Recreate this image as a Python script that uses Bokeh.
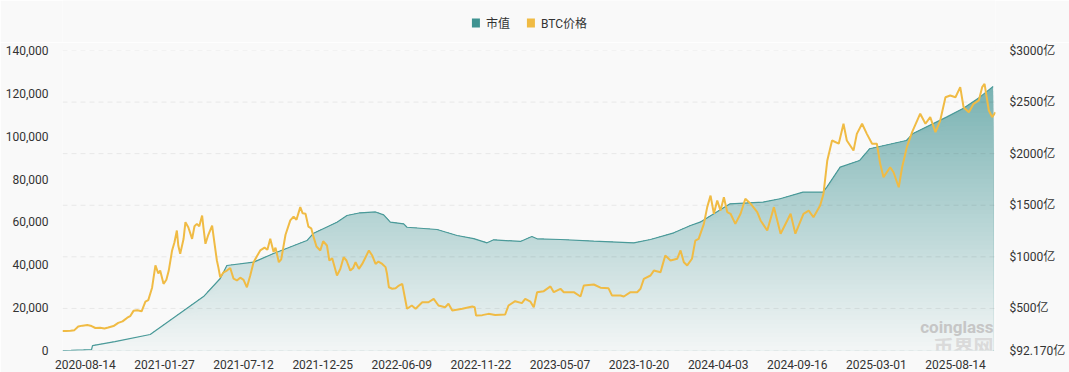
import numpy as np
import pandas as pd
from bokeh.plotting import figure
from bokeh.layouts import column
from bokeh.models import (Range1d, LinearAxis, FixedTicker, DatetimeTickFormatter,
                          NumeralTickFormatter, CustomJSTickFormatter, Legend, LegendItem, Label)
from bokeh.embed import file_html
from bokeh.resources import INLINE

# ---------------- data ----------------
btc_dates = [
    "2020-06-27", "2020-07-05", "2020-07-14", "2020-07-22", "2020-07-30", "2020-08-08", "2020-08-18",
    "2020-08-27", "2020-09-04", "2020-09-14", "2020-09-23", "2020-10-01", "2020-10-12", "2020-10-22",
    "2020-10-31", "2020-11-10", "2020-11-16", "2020-11-23", "2020-12-01", "2020-12-10", "2020-12-18",
    "2020-12-24", "2021-01-01", "2021-01-08", "2021-01-14", "2021-01-18", "2021-01-25", "2021-01-31",
    "2021-02-05", "2021-02-12", "2021-02-17", "2021-02-22", "2021-02-25", "2021-03-01", "2021-03-08",
    "2021-03-12", "2021-03-18", "2021-03-26", "2021-03-31", "2021-04-05", "2021-04-10", "2021-04-16",
    "2021-04-19", "2021-04-23", "2021-04-29", "2021-05-07", "2021-05-12", "2021-05-17", "2021-05-20",
    "2021-05-24", "2021-05-31", "2021-06-07", "2021-06-14", "2021-06-21", "2021-06-28", "2021-07-05",
    "2021-07-12", "2021-07-19", "2021-07-26", "2021-08-02", "2021-08-09", "2021-08-16", "2021-08-25",
    "2021-08-31", "2021-09-06", "2021-09-13", "2021-09-17", "2021-09-24", "2021-09-29", "2021-10-08",
    "2021-10-18", "2021-10-25", "2021-10-31", "2021-11-08", "2021-11-13", "2021-11-19", "2021-11-25",
    "2021-12-01", "2021-12-06", "2021-12-12", "2021-12-20", "2021-12-26", "2022-01-03", "2022-01-08",
    "2022-01-14", "2022-01-24", "2022-01-31", "2022-02-07", "2022-02-13", "2022-02-21", "2022-02-27",
    "2022-03-04", "2022-03-11", "2022-03-18", "2022-03-25", "2022-04-01", "2022-04-08", "2022-04-15",
    "2022-04-21", "2022-04-29", "2022-05-06", "2022-05-09", "2022-05-13", "2022-05-20", "2022-05-27",
    "2022-06-03", "2022-06-10", "2022-06-14", "2022-06-20", "2022-06-30", "2022-07-08", "2022-07-22",
    "2022-08-04", "2022-08-15", "2022-08-25", "2022-09-08", "2022-09-15", "2022-09-23", "2022-10-14",
    "2022-11-04", "2022-11-09", "2022-11-12", "2022-11-25", "2022-12-08", "2022-12-22", "2023-01-12",
    "2023-01-19", "2023-02-02", "2023-02-16", "2023-02-23", "2023-03-06", "2023-03-13", "2023-03-20",
    "2023-04-03", "2023-04-17", "2023-04-24", "2023-05-08", "2023-05-15", "2023-06-05", "2023-06-19",
    "2023-06-26", "2023-07-17", "2023-07-31", "2023-08-17", "2023-08-24", "2023-09-11", "2023-09-18",
    "2023-10-02", "2023-10-16", "2023-10-23", "2023-10-30", "2023-11-13", "2023-11-20", "2023-12-04",
    "2023-12-07", "2023-12-14", "2023-12-25", "2024-01-08", "2024-01-15", "2024-01-22", "2024-01-29",
    "2024-02-08", "2024-02-15", "2024-02-22", "2024-03-04", "2024-03-11", "2024-03-18", "2024-03-25",
    "2024-04-01", "2024-04-08", "2024-04-15", "2024-04-22", "2024-04-29", "2024-05-09", "2024-05-20",
    "2024-05-30", "2024-06-10", "2024-06-24", "2024-07-01", "2024-07-15", "2024-07-29", "2024-08-12",
    "2024-08-26", "2024-09-02", "2024-09-12", "2024-09-29", "2024-10-10", "2024-10-20", "2024-11-03",
    "2024-11-10", "2024-11-18", "2024-11-28", "2024-12-12", "2024-12-22", "2024-12-29", "2025-01-12",
    "2025-01-19", "2025-01-30", "2025-02-09", "2025-02-20", "2025-03-02", "2025-03-09", "2025-03-16",
    "2025-03-30", "2025-04-06", "2025-04-17", "2025-04-24", "2025-05-04", "2025-05-15", "2025-06-01",
    "2025-06-12", "2025-06-22", "2025-07-03", "2025-07-13", "2025-07-24", "2025-08-03", "2025-08-14",
    "2025-08-24", "2025-08-31", "2025-09-11", "2025-09-21", "2025-10-02", "2025-10-09", "2025-10-14",
    "2025-10-23", "2025-10-30", "2025-11-06",
]
btc_prices = [
    9100, 9100, 9200, 9500, 11200, 11600, 11900,
    11400, 10500, 10600, 10300, 10700, 11400, 12900,
    13600, 15300, 16000, 18500, 18800, 18300, 22800,
    23500, 29300, 39700, 36000, 37300, 31100, 33000,
    37300, 46700, 50500, 56000, 49000, 45100, 52000,
    59900, 57500, 52100, 58000, 59100, 58000, 63000,
    57000, 49800, 54000, 58300, 50000, 42000, 38900,
    34200, 36500, 37300, 38500, 33500, 32700, 34000,
    33000, 29500, 35000, 41200, 44000, 46700, 48000,
    47000, 52100, 46000, 48000, 41200, 42500, 54000,
    60700, 62500, 61000, 66900, 64000, 63800, 57800,
    57000, 52900, 48500, 46700, 51000, 49000, 42000,
    43000, 35000, 38000, 43500, 42000, 37300, 38500,
    41200, 38100, 40400, 43500, 46700, 44300, 40400,
    41500, 40400, 38900, 35800, 29500, 28800, 29000,
    30300, 31100, 26500, 19500, 21000, 19500, 22500,
    22500, 24100, 21000, 20200, 21800, 18700, 19500,
    20500, 20200, 16300, 16500, 17100, 16600, 16800,
    21000, 23000, 22100, 24100, 22800, 20200, 27200,
    27700, 29900, 27200, 28800, 27200, 27200, 25200,
    30300, 30800, 29300, 29000, 25700, 25700, 25200,
    27200, 27200, 28800, 33400, 35000, 37300, 36500,
    38900, 44300, 42000, 42800, 46700, 41200, 39700,
    42800, 51300, 52100, 59100, 66900, 72300, 63800,
    70000, 65300, 71500, 64600, 63800, 59100, 63800,
    70800, 68500, 64600, 60700, 56000, 66900, 54500,
    60700, 63800, 54500, 63800, 65300, 62200, 67700,
    73100, 88700, 98000, 96500, 105800, 98000, 93300,
    101100, 105800, 101100, 96500, 96500, 87100, 80900,
    85500, 83200, 76200, 85500, 94900, 101900, 110500,
    105800, 108900, 101900, 107300, 118200, 119000, 118200,
    122900, 113500, 111200, 115100, 116700, 122900, 124400,
    112000, 108900, 111200,
]

cap_dates = [
    "2020-06-27", "2020-07-15", "2020-08-10", "2020-08-27", "2020-08-29", "2020-10-15", "2020-12-28",
    "2021-01-11", "2021-02-22", "2021-04-19", "2021-05-24", "2021-06-07", "2021-08-02", "2021-09-13",
    "2021-11-22", "2021-12-05", "2022-01-24", "2022-02-14", "2022-03-14", "2022-04-15", "2022-05-02",
    "2022-05-16", "2022-06-13", "2022-06-20", "2022-08-22", "2022-10-03", "2022-11-07", "2022-12-05",
    "2022-12-19", "2023-02-13", "2023-03-09", "2023-03-20", "2023-05-08", "2023-07-17", "2023-10-09",
    "2023-11-13", "2024-01-01", "2024-02-05", "2024-02-25", "2024-04-28", "2024-07-06", "2024-08-11",
    "2024-09-28", "2024-11-09", "2024-11-17", "2024-12-15", "2025-01-25", "2025-02-15", "2025-05-03",
    "2025-05-17", "2025-07-26", "2025-08-30", "2025-10-04", "2025-11-01",
]
cap_values = [  # 亿美元
    92.17, 94, 98, 102, 140, 179, 247,
    293, 431, 615, 790, 916, 948, 1032,
    1158, 1226, 1336, 1401, 1427, 1435, 1407,
    1336, 1320, 1287, 1265, 1207, 1176, 1136,
    1165, 1149, 1197, 1175, 1168, 1152, 1136,
    1168, 1233, 1304, 1336, 1514, 1530, 1563,
    1627, 1627, 1675, 1869, 1934, 2048, 2128,
    2196, 2354, 2438, 2548, 2651,
]

x_tick_dates = ["2020-08-14", "2021-01-27", "2021-07-12", "2021-12-25", "2022-06-09", "2022-11-22",
                "2023-05-07", "2023-10-20", "2024-04-03", "2024-09-16", "2025-03-01", "2025-08-14"]
left_ticks = [0, 20000, 40000, 60000, 80000, 100000, 120000, 140000]
right_ticks = [92.17, 500, 1000, 1500, 2000, 2500, 3000]
right_labels = ["$92.170亿", "$500亿", "$1000亿", "$1500亿", "$2000亿", "$2500亿", "$3000亿"]
legend_labels = ["市值", "BTC价格"]

# ---------------- styling ----------------
BG = "#f9f9f9"
TEAL = (61, 145, 145)
TEAL_HEX = "#3f9391"
TEAL_LINE = "#4a9a99"
ORANGE = "#f0bb44"
TXT = "#333333"
NUM_FONT = "Roboto, 'Noto Sans CJK SC'"

bd = pd.to_datetime(btc_dates)
cd = pd.to_datetime(cap_dates)
cv = np.array(cap_values, dtype=float)
bp = np.array(btc_prices, dtype=float)

def ms(ts):
    return ts.timestamp() * 1000.0

x0, x1 = ms(bd[0]), ms(bd[-1])
cdm = [ms(t) for t in cd]
bdm = [ms(t) for t in bd]

# ---------------- legend strip ----------------
lf = figure(width=1069, height=42, output_backend="svg", toolbar_location=None,
            x_range=Range1d(0, 1), y_range=Range1d(0, 1),
            x_axis_location=None, y_axis_location=None,
            min_border_left=0, min_border_right=0, min_border_top=0, min_border_bottom=0,
            background_fill_color=BG, border_fill_color=BG, outline_line_color=None)
lf.grid.visible = False
# legend proxies: one swatch each, placed outside the visible range
r1 = lf.quad(left=[-3], right=[-2], top=[-2], bottom=[-3], fill_color=TEAL_HEX, line_color=None)
r2 = lf.quad(left=[-3], right=[-2], top=[-2], bottom=[-3], fill_color=ORANGE, line_color=None)
legend = Legend(items=[LegendItem(label=legend_labels[0], renderers=[r1]),
                       LegendItem(label=legend_labels[1], renderers=[r2])],
                orientation="horizontal", location="top_center",
                background_fill_alpha=0, border_line_color=None,
                label_text_font=NUM_FONT, label_text_font_size="12px", label_text_color=TXT,
                glyph_width=10, glyph_height=11, label_standoff=6, spacing=15,
                padding=0, margin=14)
lf.add_layout(legend, "center")

# ---------------- main chart ----------------
p = figure(width=1069, height=330, x_axis_type="datetime", output_backend="svg",
           toolbar_location=None, x_range=Range1d(x0, x1),
           y_range=Range1d(left_ticks[0], left_ticks[-1]),
           min_border_left=62, min_border_right=74, min_border_top=8, min_border_bottom=22,
           background_fill_color=BG, border_fill_color=BG, outline_line_color=None)
p.extra_y_ranges = {"cap": Range1d(float(cv.min()), right_ticks[-1])}
p.xgrid.visible = False
p.ygrid.visible = False

# left axis
la = p.yaxis[0]
la.ticker = FixedTicker(ticks=left_ticks)
la.formatter = NumeralTickFormatter(format="0,0")
la.axis_line_color = None
la.major_tick_line_color = None
la.minor_tick_line_color = None
la.major_label_standoff = 8
la.major_label_text_font = NUM_FONT
la.major_label_text_font_size = "12px"
la.major_label_text_color = TXT

# right axis
ra = LinearAxis(y_range_name="cap", ticker=FixedTicker(ticks=right_ticks),
                formatter=CustomJSTickFormatter(args=dict(t=right_ticks, l=right_labels), code="""
                    let best = 0, bdist = Infinity;
                    for (let i = 0; i < t.length; i++) {
                        const d = Math.abs(t[i] - tick);
                        if (d < bdist) { bdist = d; best = i; }
                    }
                    return l[best];
                """))
ra.axis_line_color = None
ra.major_tick_line_color = None
ra.minor_tick_line_color = None
ra.major_label_standoff = 8
ra.major_label_text_font = NUM_FONT
ra.major_label_text_font_size = "12px"
ra.major_label_text_color = TXT
p.add_layout(ra, "right")

# x axis
xa = p.xaxis[0]
xa.ticker = FixedTicker(ticks=[ms(t) for t in pd.to_datetime(x_tick_dates)])
fmt = "%Y-%m-%d"
xa.formatter = DatetimeTickFormatter(milliseconds=fmt, seconds=fmt, minsec=fmt, minutes=fmt,
                                     hourmin=fmt, hours=fmt, days=fmt, months=fmt, years=fmt)
xa.axis_line_color = None
xa.major_tick_line_color = None
xa.minor_tick_line_color = None
xa.major_label_standoff = 3
xa.major_label_text_font = NUM_FONT
xa.major_label_text_font_size = "12px"
xa.major_label_text_color = TXT

# watermark (kept inside the plot frame)
p.add_layout(Label(x=931, y=24, x_units="screen", y_units="screen", text="coinglass",
                   text_font="Roboto", text_font_size="17px", text_font_style="bold",
                   text_color="#c6c6c6", text_baseline="middle", text_align="right"))
p.add_layout(Label(x=931, y=4, x_units="screen", y_units="screen", text="币界网",
                   text_font="Noto Sans CJK SC", text_font_size="20px", text_font_style="bold",
                   text_color="#dadada", text_baseline="middle", text_align="right"))

# gradient fill of the market-cap area (stacked opaque bands)
N = 60
lo, hi = float(cv.min()), float(cv.max())
levels = np.linspace(lo, hi, N + 1)
a_top, a_bot = 0.68, 0.03
bg_rgb = (249, 249, 249)
for k in range(N - 1, -1, -1):
    t = ((levels[k] + levels[k + 1]) / 2 - lo) / (hi - lo)
    a = a_bot + (a_top - a_bot) * t
    c = tuple(int(round(bg_rgb[i] + (TEAL[i] - bg_rgb[i]) * a)) for i in range(3))
    p.varea(x=cdm, y1=[lo] * len(cdm), y2=list(np.minimum(cv, levels[k + 1])),
            fill_color="#%02x%02x%02x" % c, y_range_name="cap")

# dashed grid lines (right axis ticks)
p.multi_line(xs=[[x0, x1] for _ in right_ticks], ys=[[v, v] for v in right_ticks],
             y_range_name="cap", line_color="black", line_alpha=0.07, line_width=1,
             line_dash="5 4")

p.line(cdm, list(cv), y_range_name="cap", line_color=TEAL_LINE, line_width=1.2)
p.line(bdm, list(bp), line_color=ORANGE, line_width=2)

layout = column(lf, p, spacing=0)
open("out.html", "w").write(file_html(layout, INLINE))
